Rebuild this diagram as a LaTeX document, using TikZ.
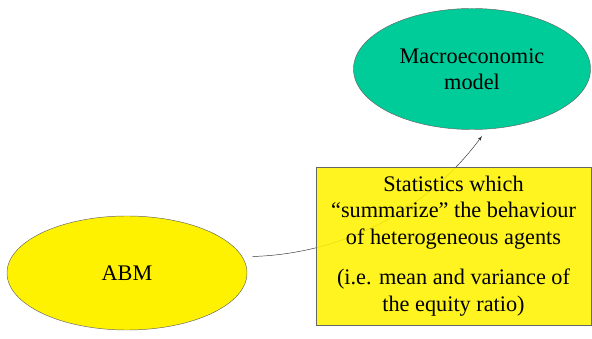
\documentclass[tikz,border=0pt]{standalone}
\usepackage{fontspec}
\setmainfont{Liberation Serif}
\usepackage{xcolor}
\usepackage{tikz}
\usetikzlibrary{shapes.geometric, arrows, positioning}

\definecolor{modelgreen}{RGB}{0,204,153}

\begin{document}
\begin{tikzpicture}[x=0.03cm, y=0.03cm, >=latex',
    font=\fontsize{19}{22.6}\selectfont,
    agent/.style={draw=black!60, ellipse, fill=yellow, minimum width=7.2cm, minimum height=3.42cm, inner sep=0pt, align=center},
    model/.style={draw=black!60, ellipse, fill=modelgreen, minimum width=7.11cm, minimum height=3.63cm, inner sep=0pt, align=center},
    statbox/.style={draw=black!60, rectangle, fill=yellow, fill opacity=0.88, text opacity=1, minimum width=8.25cm, minimum height=4.74cm, align=center}]

    \useasboundingbox (0,0) rectangle (592,338);

    % Nodes
    \node (abm) [agent] at (127,65) {ABM};
    \node (macro) [model] at (472,269) {Macroeconomic\\model};

    % Links
    \draw[->, black!80, shorten <=0.3cm, shorten >=0.25cm] (abm.8) .. controls (340,84) and (425,125) .. (macro.-76);

    \node (stats) [statbox] at (453.5,92) {Statistics which\\“summarize” the behaviour\\of heterogeneous agents\\[0.42cm]
        (i.e. mean and variance of\\the equity ratio)};
\end{tikzpicture}
\end{document}
